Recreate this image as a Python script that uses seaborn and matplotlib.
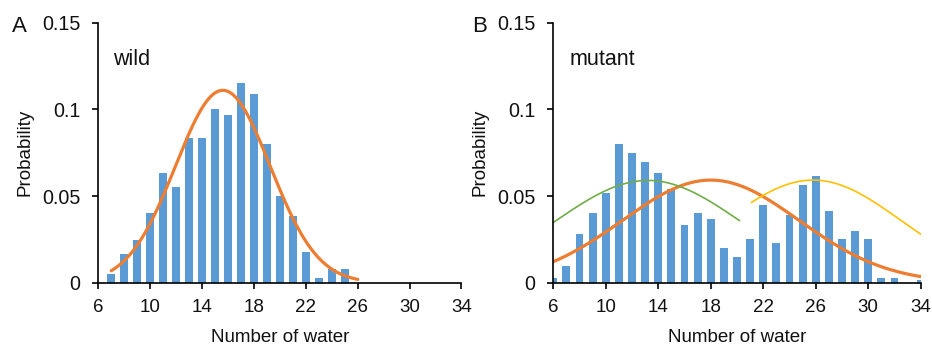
import numpy as np
import pandas as pd
import matplotlib
matplotlib.use("Agg")
import matplotlib.pyplot as plt
import seaborn as sns

# ---- data ----
wild_water = list(range(7, 26))
wild_prob = [0.005, 0.0167, 0.0246, 0.040, 0.063, 0.0552, 0.0835, 0.0835, 0.100,
             0.0967, 0.115, 0.1087, 0.080, 0.050, 0.0385, 0.0179, 0.0027, 0.0077, 0.0077]

mutant_water = list(range(6, 35))
mutant_prob = [0.0029, 0.0098, 0.0283, 0.040, 0.0517, 0.080, 0.075, 0.0698, 0.063,
               0.0538, 0.0335, 0.040, 0.0365, 0.020, 0.0148, 0.025, 0.045, 0.0231,
               0.0388, 0.0563, 0.0613, 0.0415, 0.025, 0.0298, 0.025, 0.003, 0.003,
               0.0, 0.0015]

# Gaussian fit curves (panel, centre, sd, peak height, x-start, x-end, colour, width)
fit_panel = ["wild", "mutant", "mutant", "mutant"]
fit_mean = [15.6, 18.0, 13.2, 25.8]
fit_sd = [3.65, 6.74, 7.0, 6.7]
fit_peak = [0.1110, 0.0592, 0.059, 0.0592]
fit_start = [7.0, 6.0, 6.0, 21.1]
fit_end = [26.0, 34.0, 20.2, 34.0]
fit_color = ["#ED7D31", "#ED7D31", "#70AD47", "#FFC000"]
fit_lw = [2.3, 2.3, 1.2, 1.2]

x_ticks = [6, 10, 14, 18, 22, 26, 30, 34]
y_ticks = [0, 0.05, 0.1, 0.15]
y_tick_labels = ["0", "0.05", "0.1", "0.15"]

BLUE = "#5B9BD5"

sns.set_theme(style="ticks")
plt.rcParams["font.family"] = ["Liberation Sans", "DejaVu Sans"]

W, H = 932, 347
fig = plt.figure(figsize=(W / 100, H / 100), dpi=100)
axA = fig.add_axes([98.3 / W, 1 - 282.7 / H, 363.2 / W, 260 / H])
axB = fig.add_axes([553.3 / W, 1 - 282.7 / H, 367.4 / W, 260 / H])

panels = {"wild": (axA, wild_water, wild_prob), "mutant": (axB, mutant_water, mutant_prob)}

for name, (ax, xs, ps) in panels.items():
    df = pd.DataFrame({"water": xs, "prob": ps})
    sns.barplot(data=df, x="water", y="prob", native_scale=True, width=0.6,
                color=BLUE, saturation=1, errorbar=None, linewidth=0, ax=ax)

for pn, m, s, a, x0, x1, c, lw in zip(fit_panel, fit_mean, fit_sd, fit_peak,
                                      fit_start, fit_end, fit_color, fit_lw):
    ax = panels[pn][0]
    xx = np.linspace(x0, x1, 300)
    yy = a * np.exp(-0.5 * ((xx - m) / s) ** 2)
    sns.lineplot(x=xx, y=yy, color=c, linewidth=lw, ax=ax, sort=False)

for ax in (axA, axB):
    ax.set_xlim(6, 34)
    ax.set_ylim(0, 0.15)
    ax.set_xticks(x_ticks)
    ax.set_xticklabels([str(t) for t in x_ticks])
    ax.set_yticks(y_ticks)
    ax.set_yticklabels(y_tick_labels)
    for sp in ("top", "right"):
        ax.spines[sp].set_visible(False)
    for sp in ("left", "bottom"):
        ax.spines[sp].set_linewidth(1.2)
        ax.spines[sp].set_color("black")
    ax.tick_params(axis="both", direction="out", length=4, width=1.2,
                   color="black", labelcolor="#111111")
    ax.tick_params(axis="x", pad=8, labelsize=13.5)
    ax.tick_params(axis="y", pad=9, labelsize=14.2)
    ax.set_xlabel("Number of water", fontsize=13.5, labelpad=9, color="#111111")
    ax.set_ylabel("Probability", fontsize=13.5, labelpad=6, color="#111111")
    ax.patch.set_alpha(0)

axA.text(7.13, 0.1256, "wild", fontsize=15.5, va="baseline", ha="left", color="#111111")
axB.text(7.27, 0.1256, "mutant", fontsize=15.5, va="baseline", ha="left", color="#111111")

fig.text(12 / W, 1 - 31.7 / H, "A", fontsize=16, va="baseline", ha="left", color="#111111")
fig.text(471.7 / W, 1 - 31.7 / H, "B", fontsize=16, va="baseline", ha="left", color="#111111")

fig.savefig("out.png", dpi=100)
